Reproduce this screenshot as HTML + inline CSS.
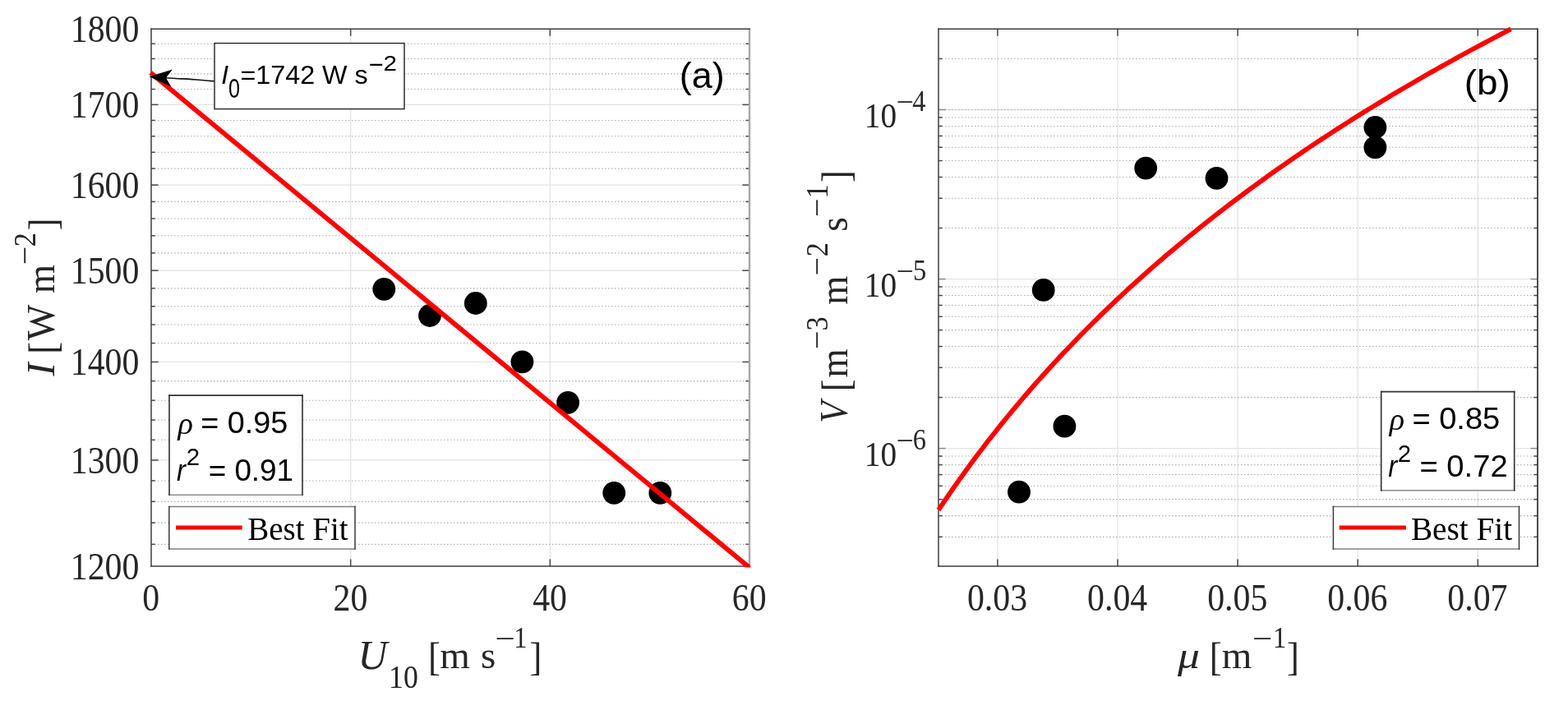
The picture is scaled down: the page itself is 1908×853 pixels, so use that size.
<!DOCTYPE html>
<html lang="en">
<head>
<meta charset="utf-8">
<title>Best fit plots</title>
<style>
html,body{margin:0;padding:0;background:#fff;}
body{width:1908px;height:853px;overflow:hidden;}
svg{display:block;}
text{white-space:pre;}
</style>
</head>
<body>
<svg width="1908" height="853" viewBox="0 0 1908 853" role="img" aria-label="Best fit plots (a) and (b)">
<rect width="1908" height="853" fill="#ffffff"/>
<line x1="426.67" y1="35.20" x2="426.67" y2="689.00" stroke="#e3e3e3" stroke-width="1.3" />
<line x1="669.33" y1="35.20" x2="669.33" y2="689.00" stroke="#e3e3e3" stroke-width="1.3" />
<line x1="184.00" y1="559.93" x2="912.00" y2="559.93" stroke="#e3e3e3" stroke-width="1.3" />
<line x1="184.00" y1="440.44" x2="912.00" y2="440.44" stroke="#e3e3e3" stroke-width="1.3" />
<line x1="184.00" y1="329.19" x2="912.00" y2="329.19" stroke="#e3e3e3" stroke-width="1.3" />
<line x1="184.00" y1="225.12" x2="912.00" y2="225.12" stroke="#e3e3e3" stroke-width="1.3" />
<line x1="184.00" y1="127.37" x2="912.00" y2="127.37" stroke="#e3e3e3" stroke-width="1.3" />
<line x1="184.00" y1="662.35" x2="912.00" y2="662.35" stroke="#adadad" stroke-width="1.1" stroke-dasharray="1.5 2.5"/>
<line x1="184.00" y1="636.13" x2="912.00" y2="636.13" stroke="#adadad" stroke-width="1.1" stroke-dasharray="1.5 2.5"/>
<line x1="184.00" y1="610.33" x2="912.00" y2="610.33" stroke="#adadad" stroke-width="1.1" stroke-dasharray="1.5 2.5"/>
<line x1="184.00" y1="584.93" x2="912.00" y2="584.93" stroke="#adadad" stroke-width="1.1" stroke-dasharray="1.5 2.5"/>
<line x1="184.00" y1="535.32" x2="912.00" y2="535.32" stroke="#adadad" stroke-width="1.1" stroke-dasharray="1.5 2.5"/>
<line x1="184.00" y1="511.07" x2="912.00" y2="511.07" stroke="#adadad" stroke-width="1.1" stroke-dasharray="1.5 2.5"/>
<line x1="184.00" y1="487.18" x2="912.00" y2="487.18" stroke="#adadad" stroke-width="1.1" stroke-dasharray="1.5 2.5"/>
<line x1="184.00" y1="463.64" x2="912.00" y2="463.64" stroke="#adadad" stroke-width="1.1" stroke-dasharray="1.5 2.5"/>
<line x1="184.00" y1="417.56" x2="912.00" y2="417.56" stroke="#adadad" stroke-width="1.1" stroke-dasharray="1.5 2.5"/>
<line x1="184.00" y1="395.01" x2="912.00" y2="395.01" stroke="#adadad" stroke-width="1.1" stroke-dasharray="1.5 2.5"/>
<line x1="184.00" y1="372.77" x2="912.00" y2="372.77" stroke="#adadad" stroke-width="1.1" stroke-dasharray="1.5 2.5"/>
<line x1="184.00" y1="350.83" x2="912.00" y2="350.83" stroke="#adadad" stroke-width="1.1" stroke-dasharray="1.5 2.5"/>
<line x1="184.00" y1="307.83" x2="912.00" y2="307.83" stroke="#adadad" stroke-width="1.1" stroke-dasharray="1.5 2.5"/>
<line x1="184.00" y1="286.75" x2="912.00" y2="286.75" stroke="#adadad" stroke-width="1.1" stroke-dasharray="1.5 2.5"/>
<line x1="184.00" y1="265.95" x2="912.00" y2="265.95" stroke="#adadad" stroke-width="1.1" stroke-dasharray="1.5 2.5"/>
<line x1="184.00" y1="245.40" x2="912.00" y2="245.40" stroke="#adadad" stroke-width="1.1" stroke-dasharray="1.5 2.5"/>
<line x1="184.00" y1="205.09" x2="912.00" y2="205.09" stroke="#adadad" stroke-width="1.1" stroke-dasharray="1.5 2.5"/>
<line x1="184.00" y1="185.31" x2="912.00" y2="185.31" stroke="#adadad" stroke-width="1.1" stroke-dasharray="1.5 2.5"/>
<line x1="184.00" y1="165.76" x2="912.00" y2="165.76" stroke="#adadad" stroke-width="1.1" stroke-dasharray="1.5 2.5"/>
<line x1="184.00" y1="146.45" x2="912.00" y2="146.45" stroke="#adadad" stroke-width="1.1" stroke-dasharray="1.5 2.5"/>
<line x1="184.00" y1="108.51" x2="912.00" y2="108.51" stroke="#adadad" stroke-width="1.1" stroke-dasharray="1.5 2.5"/>
<line x1="184.00" y1="89.87" x2="912.00" y2="89.87" stroke="#adadad" stroke-width="1.1" stroke-dasharray="1.5 2.5"/>
<line x1="184.00" y1="71.44" x2="912.00" y2="71.44" stroke="#adadad" stroke-width="1.1" stroke-dasharray="1.5 2.5"/>
<line x1="184.00" y1="53.22" x2="912.00" y2="53.22" stroke="#adadad" stroke-width="1.1" stroke-dasharray="1.5 2.5"/>
<line x1="426.67" y1="689.00" x2="426.67" y2="680.40" stroke="#484848" stroke-width="1.5" />
<line x1="426.67" y1="35.20" x2="426.67" y2="43.80" stroke="#484848" stroke-width="1.5" />
<line x1="669.33" y1="689.00" x2="669.33" y2="680.40" stroke="#484848" stroke-width="1.5" />
<line x1="669.33" y1="35.20" x2="669.33" y2="43.80" stroke="#484848" stroke-width="1.5" />
<line x1="184.00" y1="559.93" x2="192.60" y2="559.93" stroke="#484848" stroke-width="1.5" />
<line x1="912.00" y1="559.93" x2="903.40" y2="559.93" stroke="#484848" stroke-width="1.5" />
<line x1="184.00" y1="440.44" x2="192.60" y2="440.44" stroke="#484848" stroke-width="1.5" />
<line x1="912.00" y1="440.44" x2="903.40" y2="440.44" stroke="#484848" stroke-width="1.5" />
<line x1="184.00" y1="329.19" x2="192.60" y2="329.19" stroke="#484848" stroke-width="1.5" />
<line x1="912.00" y1="329.19" x2="903.40" y2="329.19" stroke="#484848" stroke-width="1.5" />
<line x1="184.00" y1="225.12" x2="192.60" y2="225.12" stroke="#484848" stroke-width="1.5" />
<line x1="912.00" y1="225.12" x2="903.40" y2="225.12" stroke="#484848" stroke-width="1.5" />
<line x1="184.00" y1="127.37" x2="192.60" y2="127.37" stroke="#484848" stroke-width="1.5" />
<line x1="912.00" y1="127.37" x2="903.40" y2="127.37" stroke="#484848" stroke-width="1.5" />
<line x1="184.00" y1="662.35" x2="188.60" y2="662.35" stroke="#484848" stroke-width="1.5" />
<line x1="912.00" y1="662.35" x2="907.40" y2="662.35" stroke="#484848" stroke-width="1.5" />
<line x1="184.00" y1="636.13" x2="188.60" y2="636.13" stroke="#484848" stroke-width="1.5" />
<line x1="912.00" y1="636.13" x2="907.40" y2="636.13" stroke="#484848" stroke-width="1.5" />
<line x1="184.00" y1="610.33" x2="188.60" y2="610.33" stroke="#484848" stroke-width="1.5" />
<line x1="912.00" y1="610.33" x2="907.40" y2="610.33" stroke="#484848" stroke-width="1.5" />
<line x1="184.00" y1="584.93" x2="188.60" y2="584.93" stroke="#484848" stroke-width="1.5" />
<line x1="912.00" y1="584.93" x2="907.40" y2="584.93" stroke="#484848" stroke-width="1.5" />
<line x1="184.00" y1="535.32" x2="188.60" y2="535.32" stroke="#484848" stroke-width="1.5" />
<line x1="912.00" y1="535.32" x2="907.40" y2="535.32" stroke="#484848" stroke-width="1.5" />
<line x1="184.00" y1="511.07" x2="188.60" y2="511.07" stroke="#484848" stroke-width="1.5" />
<line x1="912.00" y1="511.07" x2="907.40" y2="511.07" stroke="#484848" stroke-width="1.5" />
<line x1="184.00" y1="487.18" x2="188.60" y2="487.18" stroke="#484848" stroke-width="1.5" />
<line x1="912.00" y1="487.18" x2="907.40" y2="487.18" stroke="#484848" stroke-width="1.5" />
<line x1="184.00" y1="463.64" x2="188.60" y2="463.64" stroke="#484848" stroke-width="1.5" />
<line x1="912.00" y1="463.64" x2="907.40" y2="463.64" stroke="#484848" stroke-width="1.5" />
<line x1="184.00" y1="417.56" x2="188.60" y2="417.56" stroke="#484848" stroke-width="1.5" />
<line x1="912.00" y1="417.56" x2="907.40" y2="417.56" stroke="#484848" stroke-width="1.5" />
<line x1="184.00" y1="395.01" x2="188.60" y2="395.01" stroke="#484848" stroke-width="1.5" />
<line x1="912.00" y1="395.01" x2="907.40" y2="395.01" stroke="#484848" stroke-width="1.5" />
<line x1="184.00" y1="372.77" x2="188.60" y2="372.77" stroke="#484848" stroke-width="1.5" />
<line x1="912.00" y1="372.77" x2="907.40" y2="372.77" stroke="#484848" stroke-width="1.5" />
<line x1="184.00" y1="350.83" x2="188.60" y2="350.83" stroke="#484848" stroke-width="1.5" />
<line x1="912.00" y1="350.83" x2="907.40" y2="350.83" stroke="#484848" stroke-width="1.5" />
<line x1="184.00" y1="307.83" x2="188.60" y2="307.83" stroke="#484848" stroke-width="1.5" />
<line x1="912.00" y1="307.83" x2="907.40" y2="307.83" stroke="#484848" stroke-width="1.5" />
<line x1="184.00" y1="286.75" x2="188.60" y2="286.75" stroke="#484848" stroke-width="1.5" />
<line x1="912.00" y1="286.75" x2="907.40" y2="286.75" stroke="#484848" stroke-width="1.5" />
<line x1="184.00" y1="265.95" x2="188.60" y2="265.95" stroke="#484848" stroke-width="1.5" />
<line x1="912.00" y1="265.95" x2="907.40" y2="265.95" stroke="#484848" stroke-width="1.5" />
<line x1="184.00" y1="245.40" x2="188.60" y2="245.40" stroke="#484848" stroke-width="1.5" />
<line x1="912.00" y1="245.40" x2="907.40" y2="245.40" stroke="#484848" stroke-width="1.5" />
<line x1="184.00" y1="205.09" x2="188.60" y2="205.09" stroke="#484848" stroke-width="1.5" />
<line x1="912.00" y1="205.09" x2="907.40" y2="205.09" stroke="#484848" stroke-width="1.5" />
<line x1="184.00" y1="185.31" x2="188.60" y2="185.31" stroke="#484848" stroke-width="1.5" />
<line x1="912.00" y1="185.31" x2="907.40" y2="185.31" stroke="#484848" stroke-width="1.5" />
<line x1="184.00" y1="165.76" x2="188.60" y2="165.76" stroke="#484848" stroke-width="1.5" />
<line x1="912.00" y1="165.76" x2="907.40" y2="165.76" stroke="#484848" stroke-width="1.5" />
<line x1="184.00" y1="146.45" x2="188.60" y2="146.45" stroke="#484848" stroke-width="1.5" />
<line x1="912.00" y1="146.45" x2="907.40" y2="146.45" stroke="#484848" stroke-width="1.5" />
<line x1="184.00" y1="108.51" x2="188.60" y2="108.51" stroke="#484848" stroke-width="1.5" />
<line x1="912.00" y1="108.51" x2="907.40" y2="108.51" stroke="#484848" stroke-width="1.5" />
<line x1="184.00" y1="89.87" x2="188.60" y2="89.87" stroke="#484848" stroke-width="1.5" />
<line x1="912.00" y1="89.87" x2="907.40" y2="89.87" stroke="#484848" stroke-width="1.5" />
<line x1="184.00" y1="71.44" x2="188.60" y2="71.44" stroke="#484848" stroke-width="1.5" />
<line x1="912.00" y1="71.44" x2="907.40" y2="71.44" stroke="#484848" stroke-width="1.5" />
<line x1="184.00" y1="53.22" x2="188.60" y2="53.22" stroke="#484848" stroke-width="1.5" />
<line x1="912.00" y1="53.22" x2="907.40" y2="53.22" stroke="#484848" stroke-width="1.5" />
<line x1="912.00" y1="34.45" x2="912.00" y2="689.75" stroke="#a8a8a8" stroke-width="2.4" />
<line x1="183.25" y1="35.20" x2="912.75" y2="35.20" stroke="#3c3c3c" stroke-width="1.5" />
<line x1="183.25" y1="689.00" x2="912.75" y2="689.00" stroke="#3c3c3c" stroke-width="1.5" />
<line x1="184.00" y1="34.45" x2="184.00" y2="689.75" stroke="#3c3c3c" stroke-width="1.5" />
<circle cx="467.3" cy="351.8" r="13.9" fill="#000"/>
<circle cx="523.0" cy="384.0" r="13.9" fill="#000"/>
<circle cx="578.8" cy="369.0" r="13.9" fill="#000"/>
<circle cx="635.4" cy="440.3" r="13.9" fill="#000"/>
<circle cx="691.1" cy="489.8" r="13.9" fill="#000"/>
<circle cx="747.2" cy="599.8" r="13.9" fill="#000"/>
<circle cx="803.3" cy="599.8" r="13.9" fill="#000"/>
<clipPath id="cl"><rect x="170" y="30" width="743.3" height="660.4"/></clipPath>
<g clip-path="url(#cl)"><line x1="183.2" y1="88.49" x2="920" y2="697.31" stroke="#ff0000" stroke-width="5.8"/></g>
<text transform="translate(169.40 705.00) scale(0.9170 1)" text-anchor="end" font-family='"Liberation Serif", serif'  font-size="45.60" fill="#262626">1200</text>
<text transform="translate(169.40 575.93) scale(0.9170 1)" text-anchor="end" font-family='"Liberation Serif", serif'  font-size="45.60" fill="#262626">1300</text>
<text transform="translate(169.40 456.44) scale(0.9170 1)" text-anchor="end" font-family='"Liberation Serif", serif'  font-size="45.60" fill="#262626">1400</text>
<text transform="translate(169.40 345.19) scale(0.9170 1)" text-anchor="end" font-family='"Liberation Serif", serif'  font-size="45.60" fill="#262626">1500</text>
<text transform="translate(169.40 241.12) scale(0.9170 1)" text-anchor="end" font-family='"Liberation Serif", serif'  font-size="45.60" fill="#262626">1600</text>
<text transform="translate(169.40 143.37) scale(0.9170 1)" text-anchor="end" font-family='"Liberation Serif", serif'  font-size="45.60" fill="#262626">1700</text>
<text transform="translate(169.40 51.20) scale(0.9170 1)" text-anchor="end" font-family='"Liberation Serif", serif'  font-size="45.60" fill="#262626">1800</text>
<text transform="translate(183.70 743.30) scale(0.9170 1)" text-anchor="middle" font-family='"Liberation Serif", serif'  font-size="45.60" fill="#262626">0</text>
<text transform="translate(426.37 743.30) scale(0.9170 1)" text-anchor="middle" font-family='"Liberation Serif", serif'  font-size="45.60" fill="#262626">20</text>
<text transform="translate(669.03 743.30) scale(0.9170 1)" text-anchor="middle" font-family='"Liberation Serif", serif'  font-size="45.60" fill="#262626">40</text>
<text transform="translate(911.70 743.30) scale(0.9170 1)" text-anchor="middle" font-family='"Liberation Serif", serif'  font-size="45.60" fill="#262626">60</text>
<path d="M261 98.7 C245 98.2 232 95.8 222 95.9 C214 96 208 94.8 201.5 94.8" stroke="#111" stroke-width="1.6" fill="none"/>
<path d="M181.5 93.3 L209.9 84.6 L202 94.7 L208.3 105.6 Z" fill="#000"/>
<rect x="261.00" y="52.60" width="231.00" height="80.00" fill="#fff" stroke="#2e2e2e" stroke-width="1.5"/>
<g aria-label="I0=1742 W s−2">
<text transform="translate(269.33 101.70)" font-family='"Liberation Sans", sans-serif' font-style="italic" font-size="31.70" fill="#000">I</text>
<text transform="translate(277.99 119.07) scale(0.7735 1)" font-family='"Liberation Sans", sans-serif'  font-size="32.55" fill="#000">0</text>
<text transform="translate(292.38 101.68) scale(1.0193 1)" font-family='"Liberation Sans", sans-serif'  font-size="31.70" fill="#000">=1742 W s</text>
<text transform="translate(448.46 89.42) scale(1 1.0000)" font-family='"Liberation Sans", sans-serif'  font-size="30.82" fill="#000">−</text>
<text transform="translate(466.52 86.00) scale(1.1570 1)" font-family='"Liberation Sans", sans-serif'  font-size="25.55" fill="#000">2</text>
</g>
<text transform="translate(826.86 107.12) scale(1.0102 1)" font-family='"Liberation Sans", sans-serif'  font-size="44.41" fill="#000">(a)</text>
<rect x="206.00" y="481.10" width="162.00" height="121.10" fill="#fff"/>
<line x1="205.20" y1="481.10" x2="368.80" y2="481.10" stroke="#333333" stroke-width="1.6" />
<line x1="205.20" y1="602.20" x2="368.80" y2="602.20" stroke="#8a8a8a" stroke-width="1.6" />
<line x1="206.00" y1="480.30" x2="206.00" y2="603.00" stroke="#2e2e2e" stroke-width="1.6" />
<line x1="368.00" y1="480.30" x2="368.00" y2="603.00" stroke="#2e2e2e" stroke-width="1.6" />
<g aria-label="ρ = 0.95, r2 = 0.91">
<text transform="translate(216.52 527.70) scale(1.0369 1)" font-family='"Liberation Serif", serif' font-style="italic" font-size="37.02" fill="#000">ρ</text>
<text transform="translate(244.31 527.13) scale(1.0344 1)" font-family='"Liberation Sans", sans-serif'  font-size="36.51" fill="#000">= 0.95</text>
<text transform="translate(215.05 585.00) scale(0.9000 1)" font-family='"Liberation Sans", sans-serif' font-style="italic" font-size="36.40" fill="#000">r</text>
<text transform="translate(226.63 566.40) scale(0.9781 1)" font-family='"Liberation Sans", sans-serif'  font-size="30.00" fill="#000">2</text>
<text transform="translate(253.66 585.00) scale(1.0100 1)" font-family='"Liberation Sans", sans-serif'  font-size="36.47" fill="#000">= 0.91</text>
</g>
<rect x="205.80" y="616.40" width="226.20" height="51.70" fill="#fff"/>
<line x1="205.05" y1="616.40" x2="432.75" y2="616.40" stroke="#808080" stroke-width="1.5" />
<line x1="205.05" y1="668.10" x2="432.75" y2="668.10" stroke="#808080" stroke-width="1.5" />
<line x1="205.80" y1="615.65" x2="205.80" y2="668.85" stroke="#3a3a3a" stroke-width="1.5" />
<line x1="432.00" y1="615.65" x2="432.00" y2="668.85" stroke="#3a3a3a" stroke-width="1.5" />
<line x1="214.00" y1="642.10" x2="294.60" y2="642.10" stroke="#ff0000" stroke-width="5.0" />
<text transform="translate(301.23 656.90) scale(0.9838 1)" font-family='"Liberation Serif", serif'  font-size="39.65" fill="#000">Best Fit</text>
<g aria-label="U10 [m s−1]">
<text transform="translate(435.57 813.50)" font-family='"Liberation Serif", serif' font-style="italic" font-size="49.60" fill="#262626">U</text>
<text transform="translate(473.10 837.30) scale(0.8850 1)" font-family='"Liberation Serif", serif'  font-size="40.40" fill="#262626">10</text>
<text transform="translate(520.93 814.50) scale(0.9000 1)" font-family='"Liberation Serif", serif'  font-size="49.60" fill="#262626">[</text>
<text transform="translate(535.16 812.90)" font-family='"Liberation Serif", serif'  font-size="47.00" fill="#262626">m</text>
<text transform="translate(584.92 812.90)" font-family='"Liberation Serif", serif'  font-size="47.00" fill="#262626">s</text>
<text transform="translate(602.14 788.50) scale(1.2000 1)" font-family='"Liberation Serif", serif'  font-size="36.00" fill="#262626">−</text>
<text transform="translate(625.19 787.90) scale(0.9000 1)" font-family='"Liberation Serif", serif'  font-size="36.00" fill="#262626">1</text>
<text transform="translate(644.59 814.50) scale(0.9000 1)" font-family='"Liberation Serif", serif'  font-size="49.60" fill="#262626">]</text>
</g>
<g aria-label="I [W m−2]">
<text transform="translate(65.60 457.44) rotate(-90)" font-family='"Liberation Serif", serif' font-style="italic" font-size="48.50" fill="#262626">I</text>
<text transform="translate(67.60 430.87) rotate(-90) scale(0.9000 1)" font-family='"Liberation Serif", serif'  font-size="49.60" fill="#262626">[</text>
<text transform="translate(65.60 414.20) rotate(-90) scale(0.9550 1)" font-family='"Liberation Serif", serif'  font-size="48.50" fill="#262626">W</text>
<text transform="translate(65.60 356.90) rotate(-90) scale(0.9300 1)" font-family='"Liberation Serif", serif'  font-size="48.50" fill="#262626">m</text>
<text transform="translate(42.60 322.30) rotate(-90) scale(1.0500 1)" font-family='"Liberation Serif", serif'  font-size="38.00" fill="#262626">−</text>
<text transform="translate(42.60 300.28) rotate(-90) scale(0.9000 1)" font-family='"Liberation Serif", serif'  font-size="38.00" fill="#262626">2</text>
<text transform="translate(67.60 280.21) rotate(-90) scale(0.9000 1)" font-family='"Liberation Serif", serif'  font-size="49.60" fill="#262626">]</text>
</g>
<line x1="1213.90" y1="35.20" x2="1213.90" y2="689.00" stroke="#e3e3e3" stroke-width="1.3" />
<line x1="1360.00" y1="35.20" x2="1360.00" y2="689.00" stroke="#e3e3e3" stroke-width="1.3" />
<line x1="1506.10" y1="35.20" x2="1506.10" y2="689.00" stroke="#e3e3e3" stroke-width="1.3" />
<line x1="1652.20" y1="35.20" x2="1652.20" y2="689.00" stroke="#e3e3e3" stroke-width="1.3" />
<line x1="1798.30" y1="35.20" x2="1798.30" y2="689.00" stroke="#e3e3e3" stroke-width="1.3" />
<line x1="1142.00" y1="133.51" x2="1871.00" y2="133.51" stroke="#e3e3e3" stroke-width="1.3" />
<line x1="1142.00" y1="339.56" x2="1871.00" y2="339.56" stroke="#e3e3e3" stroke-width="1.3" />
<line x1="1142.00" y1="545.61" x2="1871.00" y2="545.61" stroke="#e3e3e3" stroke-width="1.3" />
<line x1="1142.00" y1="653.35" x2="1871.00" y2="653.35" stroke="#adadad" stroke-width="1.1" stroke-dasharray="1.5 2.5"/>
<line x1="1142.00" y1="627.61" x2="1871.00" y2="627.61" stroke="#adadad" stroke-width="1.1" stroke-dasharray="1.5 2.5"/>
<line x1="1142.00" y1="607.64" x2="1871.00" y2="607.64" stroke="#adadad" stroke-width="1.1" stroke-dasharray="1.5 2.5"/>
<line x1="1142.00" y1="591.32" x2="1871.00" y2="591.32" stroke="#adadad" stroke-width="1.1" stroke-dasharray="1.5 2.5"/>
<line x1="1142.00" y1="577.53" x2="1871.00" y2="577.53" stroke="#adadad" stroke-width="1.1" stroke-dasharray="1.5 2.5"/>
<line x1="1142.00" y1="565.58" x2="1871.00" y2="565.58" stroke="#adadad" stroke-width="1.1" stroke-dasharray="1.5 2.5"/>
<line x1="1142.00" y1="555.04" x2="1871.00" y2="555.04" stroke="#adadad" stroke-width="1.1" stroke-dasharray="1.5 2.5"/>
<line x1="1142.00" y1="483.58" x2="1871.00" y2="483.58" stroke="#adadad" stroke-width="1.1" stroke-dasharray="1.5 2.5"/>
<line x1="1142.00" y1="447.30" x2="1871.00" y2="447.30" stroke="#adadad" stroke-width="1.1" stroke-dasharray="1.5 2.5"/>
<line x1="1142.00" y1="421.56" x2="1871.00" y2="421.56" stroke="#adadad" stroke-width="1.1" stroke-dasharray="1.5 2.5"/>
<line x1="1142.00" y1="401.59" x2="1871.00" y2="401.59" stroke="#adadad" stroke-width="1.1" stroke-dasharray="1.5 2.5"/>
<line x1="1142.00" y1="385.27" x2="1871.00" y2="385.27" stroke="#adadad" stroke-width="1.1" stroke-dasharray="1.5 2.5"/>
<line x1="1142.00" y1="371.48" x2="1871.00" y2="371.48" stroke="#adadad" stroke-width="1.1" stroke-dasharray="1.5 2.5"/>
<line x1="1142.00" y1="359.53" x2="1871.00" y2="359.53" stroke="#adadad" stroke-width="1.1" stroke-dasharray="1.5 2.5"/>
<line x1="1142.00" y1="348.99" x2="1871.00" y2="348.99" stroke="#adadad" stroke-width="1.1" stroke-dasharray="1.5 2.5"/>
<line x1="1142.00" y1="277.53" x2="1871.00" y2="277.53" stroke="#adadad" stroke-width="1.1" stroke-dasharray="1.5 2.5"/>
<line x1="1142.00" y1="241.25" x2="1871.00" y2="241.25" stroke="#adadad" stroke-width="1.1" stroke-dasharray="1.5 2.5"/>
<line x1="1142.00" y1="215.51" x2="1871.00" y2="215.51" stroke="#adadad" stroke-width="1.1" stroke-dasharray="1.5 2.5"/>
<line x1="1142.00" y1="195.54" x2="1871.00" y2="195.54" stroke="#adadad" stroke-width="1.1" stroke-dasharray="1.5 2.5"/>
<line x1="1142.00" y1="179.22" x2="1871.00" y2="179.22" stroke="#adadad" stroke-width="1.1" stroke-dasharray="1.5 2.5"/>
<line x1="1142.00" y1="165.43" x2="1871.00" y2="165.43" stroke="#adadad" stroke-width="1.1" stroke-dasharray="1.5 2.5"/>
<line x1="1142.00" y1="153.48" x2="1871.00" y2="153.48" stroke="#adadad" stroke-width="1.1" stroke-dasharray="1.5 2.5"/>
<line x1="1142.00" y1="142.94" x2="1871.00" y2="142.94" stroke="#adadad" stroke-width="1.1" stroke-dasharray="1.5 2.5"/>
<line x1="1142.00" y1="71.48" x2="1871.00" y2="71.48" stroke="#adadad" stroke-width="1.1" stroke-dasharray="1.5 2.5"/>
<line x1="1142.00" y1="133.51" x2="1871.00" y2="133.51" stroke="#adadad" stroke-width="1.1" stroke-dasharray="1.5 2.5"/>
<line x1="1213.90" y1="689.00" x2="1213.90" y2="680.40" stroke="#484848" stroke-width="1.5" />
<line x1="1213.90" y1="35.20" x2="1213.90" y2="43.80" stroke="#484848" stroke-width="1.5" />
<line x1="1360.00" y1="689.00" x2="1360.00" y2="680.40" stroke="#484848" stroke-width="1.5" />
<line x1="1360.00" y1="35.20" x2="1360.00" y2="43.80" stroke="#484848" stroke-width="1.5" />
<line x1="1506.10" y1="689.00" x2="1506.10" y2="680.40" stroke="#484848" stroke-width="1.5" />
<line x1="1506.10" y1="35.20" x2="1506.10" y2="43.80" stroke="#484848" stroke-width="1.5" />
<line x1="1652.20" y1="689.00" x2="1652.20" y2="680.40" stroke="#484848" stroke-width="1.5" />
<line x1="1652.20" y1="35.20" x2="1652.20" y2="43.80" stroke="#484848" stroke-width="1.5" />
<line x1="1798.30" y1="689.00" x2="1798.30" y2="680.40" stroke="#484848" stroke-width="1.5" />
<line x1="1798.30" y1="35.20" x2="1798.30" y2="43.80" stroke="#484848" stroke-width="1.5" />
<line x1="1142.00" y1="133.51" x2="1150.60" y2="133.51" stroke="#8c8c8c" stroke-width="1.5" />
<line x1="1871.00" y1="133.51" x2="1862.40" y2="133.51" stroke="#8c8c8c" stroke-width="1.5" />
<line x1="1142.00" y1="339.56" x2="1150.60" y2="339.56" stroke="#8c8c8c" stroke-width="1.5" />
<line x1="1871.00" y1="339.56" x2="1862.40" y2="339.56" stroke="#8c8c8c" stroke-width="1.5" />
<line x1="1142.00" y1="545.61" x2="1150.60" y2="545.61" stroke="#8c8c8c" stroke-width="1.5" />
<line x1="1871.00" y1="545.61" x2="1862.40" y2="545.61" stroke="#8c8c8c" stroke-width="1.5" />
<line x1="1142.00" y1="653.35" x2="1146.60" y2="653.35" stroke="#484848" stroke-width="1.5" />
<line x1="1871.00" y1="653.35" x2="1866.40" y2="653.35" stroke="#484848" stroke-width="1.5" />
<line x1="1142.00" y1="627.61" x2="1146.60" y2="627.61" stroke="#484848" stroke-width="1.5" />
<line x1="1871.00" y1="627.61" x2="1866.40" y2="627.61" stroke="#484848" stroke-width="1.5" />
<line x1="1142.00" y1="607.64" x2="1146.60" y2="607.64" stroke="#484848" stroke-width="1.5" />
<line x1="1871.00" y1="607.64" x2="1866.40" y2="607.64" stroke="#484848" stroke-width="1.5" />
<line x1="1142.00" y1="591.32" x2="1146.60" y2="591.32" stroke="#484848" stroke-width="1.5" />
<line x1="1871.00" y1="591.32" x2="1866.40" y2="591.32" stroke="#484848" stroke-width="1.5" />
<line x1="1142.00" y1="577.53" x2="1146.60" y2="577.53" stroke="#484848" stroke-width="1.5" />
<line x1="1871.00" y1="577.53" x2="1866.40" y2="577.53" stroke="#484848" stroke-width="1.5" />
<line x1="1142.00" y1="565.58" x2="1146.60" y2="565.58" stroke="#484848" stroke-width="1.5" />
<line x1="1871.00" y1="565.58" x2="1866.40" y2="565.58" stroke="#484848" stroke-width="1.5" />
<line x1="1142.00" y1="555.04" x2="1146.60" y2="555.04" stroke="#484848" stroke-width="1.5" />
<line x1="1871.00" y1="555.04" x2="1866.40" y2="555.04" stroke="#484848" stroke-width="1.5" />
<line x1="1142.00" y1="483.58" x2="1146.60" y2="483.58" stroke="#484848" stroke-width="1.5" />
<line x1="1871.00" y1="483.58" x2="1866.40" y2="483.58" stroke="#484848" stroke-width="1.5" />
<line x1="1142.00" y1="447.30" x2="1146.60" y2="447.30" stroke="#484848" stroke-width="1.5" />
<line x1="1871.00" y1="447.30" x2="1866.40" y2="447.30" stroke="#484848" stroke-width="1.5" />
<line x1="1142.00" y1="421.56" x2="1146.60" y2="421.56" stroke="#484848" stroke-width="1.5" />
<line x1="1871.00" y1="421.56" x2="1866.40" y2="421.56" stroke="#484848" stroke-width="1.5" />
<line x1="1142.00" y1="401.59" x2="1146.60" y2="401.59" stroke="#484848" stroke-width="1.5" />
<line x1="1871.00" y1="401.59" x2="1866.40" y2="401.59" stroke="#484848" stroke-width="1.5" />
<line x1="1142.00" y1="385.27" x2="1146.60" y2="385.27" stroke="#484848" stroke-width="1.5" />
<line x1="1871.00" y1="385.27" x2="1866.40" y2="385.27" stroke="#484848" stroke-width="1.5" />
<line x1="1142.00" y1="371.48" x2="1146.60" y2="371.48" stroke="#484848" stroke-width="1.5" />
<line x1="1871.00" y1="371.48" x2="1866.40" y2="371.48" stroke="#484848" stroke-width="1.5" />
<line x1="1142.00" y1="359.53" x2="1146.60" y2="359.53" stroke="#484848" stroke-width="1.5" />
<line x1="1871.00" y1="359.53" x2="1866.40" y2="359.53" stroke="#484848" stroke-width="1.5" />
<line x1="1142.00" y1="348.99" x2="1146.60" y2="348.99" stroke="#484848" stroke-width="1.5" />
<line x1="1871.00" y1="348.99" x2="1866.40" y2="348.99" stroke="#484848" stroke-width="1.5" />
<line x1="1142.00" y1="277.53" x2="1146.60" y2="277.53" stroke="#484848" stroke-width="1.5" />
<line x1="1871.00" y1="277.53" x2="1866.40" y2="277.53" stroke="#484848" stroke-width="1.5" />
<line x1="1142.00" y1="241.25" x2="1146.60" y2="241.25" stroke="#484848" stroke-width="1.5" />
<line x1="1871.00" y1="241.25" x2="1866.40" y2="241.25" stroke="#484848" stroke-width="1.5" />
<line x1="1142.00" y1="215.51" x2="1146.60" y2="215.51" stroke="#484848" stroke-width="1.5" />
<line x1="1871.00" y1="215.51" x2="1866.40" y2="215.51" stroke="#484848" stroke-width="1.5" />
<line x1="1142.00" y1="195.54" x2="1146.60" y2="195.54" stroke="#484848" stroke-width="1.5" />
<line x1="1871.00" y1="195.54" x2="1866.40" y2="195.54" stroke="#484848" stroke-width="1.5" />
<line x1="1142.00" y1="179.22" x2="1146.60" y2="179.22" stroke="#484848" stroke-width="1.5" />
<line x1="1871.00" y1="179.22" x2="1866.40" y2="179.22" stroke="#484848" stroke-width="1.5" />
<line x1="1142.00" y1="165.43" x2="1146.60" y2="165.43" stroke="#484848" stroke-width="1.5" />
<line x1="1871.00" y1="165.43" x2="1866.40" y2="165.43" stroke="#484848" stroke-width="1.5" />
<line x1="1142.00" y1="153.48" x2="1146.60" y2="153.48" stroke="#484848" stroke-width="1.5" />
<line x1="1871.00" y1="153.48" x2="1866.40" y2="153.48" stroke="#484848" stroke-width="1.5" />
<line x1="1142.00" y1="142.94" x2="1146.60" y2="142.94" stroke="#484848" stroke-width="1.5" />
<line x1="1871.00" y1="142.94" x2="1866.40" y2="142.94" stroke="#484848" stroke-width="1.5" />
<line x1="1142.00" y1="71.48" x2="1146.60" y2="71.48" stroke="#484848" stroke-width="1.5" />
<line x1="1871.00" y1="71.48" x2="1866.40" y2="71.48" stroke="#484848" stroke-width="1.5" />
<line x1="1871.00" y1="34.45" x2="1871.00" y2="689.75" stroke="#383838" stroke-width="1.8" />
<line x1="1141.25" y1="35.20" x2="1871.75" y2="35.20" stroke="#3c3c3c" stroke-width="1.5" />
<line x1="1141.25" y1="689.00" x2="1871.75" y2="689.00" stroke="#3c3c3c" stroke-width="1.5" />
<line x1="1142.00" y1="34.45" x2="1142.00" y2="689.75" stroke="#3c3c3c" stroke-width="1.5" />
<circle cx="1240.0" cy="598.7" r="13.9" fill="#000"/>
<circle cx="1269.7" cy="352.9" r="13.9" fill="#000"/>
<circle cx="1295.4" cy="518.7" r="13.9" fill="#000"/>
<circle cx="1394.2" cy="204.6" r="13.9" fill="#000"/>
<circle cx="1480.5" cy="216.9" r="13.9" fill="#000"/>
<circle cx="1673.4" cy="155.0" r="13.9" fill="#000"/>
<circle cx="1673.4" cy="179.4" r="13.9" fill="#000"/>
<polyline points="1142.0,620.55 1148.0,611.61 1154.0,602.81 1160.0,594.15 1166.0,585.63 1172.0,577.23 1178.0,568.97 1184.0,560.82 1190.0,552.80 1196.0,544.89 1202.0,537.10 1208.0,529.41 1214.0,521.83 1220.0,514.35 1226.0,506.98 1232.0,499.70 1238.0,492.52 1244.0,485.43 1250.0,478.43 1256.0,471.52 1262.0,464.69 1268.0,457.95 1274.0,451.29 1280.0,444.71 1286.0,438.21 1292.0,431.79 1298.0,425.44 1304.0,419.16 1310.0,412.96 1316.0,406.82 1322.0,400.75 1328.0,394.75 1334.0,388.82 1340.0,382.94 1346.0,377.13 1352.0,371.38 1358.0,365.69 1364.0,360.06 1370.0,354.49 1376.0,348.97 1382.0,343.51 1388.0,338.10 1394.0,332.74 1400.0,327.44 1406.0,322.18 1412.0,316.98 1418.0,311.82 1424.0,306.72 1430.0,301.66 1436.0,296.65 1442.0,291.68 1448.0,286.76 1454.0,281.88 1460.0,277.04 1466.0,272.25 1472.0,267.50 1478.0,262.78 1484.0,258.11 1490.0,253.48 1496.0,248.89 1502.0,244.34 1508.0,239.82 1514.0,235.34 1520.0,230.90 1526.0,226.49 1532.0,222.12 1538.0,217.78 1544.0,213.47 1550.0,209.20 1556.0,204.97 1562.0,200.76 1568.0,196.59 1574.0,192.45 1580.0,188.34 1586.0,184.26 1592.0,180.21 1598.0,176.19 1604.0,172.20 1610.0,168.24 1616.0,164.31 1622.0,160.40 1628.0,156.52 1634.0,152.67 1640.0,148.85 1646.0,145.05 1652.0,141.28 1658.0,137.54 1664.0,133.82 1670.0,130.13 1676.0,126.46 1682.0,122.81 1688.0,119.19 1694.0,115.59 1700.0,112.02 1706.0,108.47 1712.0,104.94 1718.0,101.44 1724.0,97.95 1730.0,94.49 1736.0,91.05 1742.0,87.64 1748.0,84.24 1754.0,80.87 1760.0,77.51 1766.0,74.18 1772.0,70.86 1778.0,67.57 1784.0,64.29 1790.0,61.04 1796.0,57.80 1802.0,54.59 1808.0,51.39 1814.0,48.21 1820.0,45.05 1826.0,41.90 1832.0,38.78 1838.0,35.67 1838.6,35.36" fill="none" stroke="#ff0000" stroke-width="5.8" stroke-linejoin="round"/>
<text transform="translate(1213.50 743.30) scale(0.9170 1)" text-anchor="middle" font-family='"Liberation Serif", serif'  font-size="45.60" fill="#262626">0.03</text>
<text transform="translate(1359.60 743.30) scale(0.9170 1)" text-anchor="middle" font-family='"Liberation Serif", serif'  font-size="45.60" fill="#262626">0.04</text>
<text transform="translate(1505.70 743.30) scale(0.9170 1)" text-anchor="middle" font-family='"Liberation Serif", serif'  font-size="45.60" fill="#262626">0.05</text>
<text transform="translate(1651.80 743.30) scale(0.9170 1)" text-anchor="middle" font-family='"Liberation Serif", serif'  font-size="45.60" fill="#262626">0.06</text>
<text transform="translate(1797.90 743.30) scale(0.9170 1)" text-anchor="middle" font-family='"Liberation Serif", serif'  font-size="45.60" fill="#262626">0.07</text>
<text transform="translate(1781.70 114.93) scale(1.0669 1)" font-family='"Liberation Sans", sans-serif'  font-size="42.90" fill="#000">(b)</text>
<g aria-label="10^-4">
<text transform="translate(1051.73 155.11) scale(0.9100 1)" font-family='"Liberation Serif", serif'  font-size="43.20" fill="#262626">10</text>
<text transform="translate(1090.51 135.81) scale(1.0500 1)" font-family='"Liberation Serif", serif'  font-size="36.00" fill="#262626">−</text>
<text transform="translate(1110.34 134.91) scale(0.9000 1)" font-family='"Liberation Serif", serif'  font-size="36.00" fill="#262626">4</text>
</g>
<g aria-label="10^-5">
<text transform="translate(1051.73 361.16) scale(0.9100 1)" font-family='"Liberation Serif", serif'  font-size="43.20" fill="#262626">10</text>
<text transform="translate(1090.51 341.86) scale(1.0500 1)" font-family='"Liberation Serif", serif'  font-size="36.00" fill="#262626">−</text>
<text transform="translate(1111.10 340.96) scale(0.9000 1)" font-family='"Liberation Serif", serif'  font-size="36.00" fill="#262626">5</text>
</g>
<g aria-label="10^-6">
<text transform="translate(1051.73 567.21) scale(0.9100 1)" font-family='"Liberation Serif", serif'  font-size="43.20" fill="#262626">10</text>
<text transform="translate(1090.51 547.91) scale(1.0500 1)" font-family='"Liberation Serif", serif'  font-size="36.00" fill="#262626">−</text>
<text transform="translate(1110.77 547.01) scale(0.9000 1)" font-family='"Liberation Serif", serif'  font-size="36.00" fill="#262626">6</text>
</g>
<rect x="1680.70" y="476.60" width="162.00" height="120.20" fill="#fff"/>
<line x1="1679.90" y1="476.60" x2="1843.50" y2="476.60" stroke="#333333" stroke-width="1.6" />
<line x1="1679.90" y1="596.80" x2="1843.50" y2="596.80" stroke="#8a8a8a" stroke-width="1.6" />
<line x1="1680.70" y1="475.80" x2="1680.70" y2="597.60" stroke="#2e2e2e" stroke-width="1.6" />
<line x1="1842.70" y1="475.80" x2="1842.70" y2="597.60" stroke="#2e2e2e" stroke-width="1.6" />
<g aria-label="ρ = 0.85, r2 = 0.72">
<text transform="translate(1690.82 523.00) scale(1.0313 1)" font-family='"Liberation Serif", serif' font-style="italic" font-size="37.02" fill="#000">ρ</text>
<text transform="translate(1718.40 522.33) scale(1.0425 1)" font-family='"Liberation Sans", sans-serif'  font-size="36.51" fill="#000">= 0.85</text>
<text transform="translate(1689.25 580.20) scale(0.9000 1)" font-family='"Liberation Sans", sans-serif' font-style="italic" font-size="36.40" fill="#000">r</text>
<text transform="translate(1700.83 561.60) scale(0.9781 1)" font-family='"Liberation Sans", sans-serif'  font-size="30.00" fill="#000">2</text>
<text transform="translate(1727.39 579.83) scale(1.0461 1)" font-family='"Liberation Sans", sans-serif'  font-size="36.51" fill="#000">= 0.72</text>
</g>
<rect x="1622.40" y="616.40" width="226.10" height="51.70" fill="#fff"/>
<line x1="1621.65" y1="616.40" x2="1849.25" y2="616.40" stroke="#808080" stroke-width="1.5" />
<line x1="1621.65" y1="668.10" x2="1849.25" y2="668.10" stroke="#808080" stroke-width="1.5" />
<line x1="1622.40" y1="615.65" x2="1622.40" y2="668.85" stroke="#3a3a3a" stroke-width="1.5" />
<line x1="1848.50" y1="615.65" x2="1848.50" y2="668.85" stroke="#3a3a3a" stroke-width="1.5" />
<line x1="1629.70" y1="642.10" x2="1710.90" y2="642.10" stroke="#ff0000" stroke-width="5.0" />
<text transform="translate(1716.92 656.90) scale(0.9895 1)" font-family='"Liberation Serif", serif'  font-size="39.65" fill="#000">Best Fit</text>
<g aria-label="μ [m−1]">
<text transform="translate(1432.90 812.90) scale(1.1400 1)" font-family='"Liberation Serif", serif' font-style="italic" font-size="47.00" fill="#262626">μ</text>
<text transform="translate(1471.83 814.50) scale(0.9000 1)" font-family='"Liberation Serif", serif'  font-size="49.60" fill="#262626">[</text>
<text transform="translate(1486.86 812.90)" font-family='"Liberation Serif", serif'  font-size="47.00" fill="#262626">m</text>
<text transform="translate(1523.74 788.80) scale(1.2000 1)" font-family='"Liberation Serif", serif'  font-size="36.00" fill="#262626">−</text>
<text transform="translate(1549.09 787.90) scale(0.9000 1)" font-family='"Liberation Serif", serif'  font-size="36.00" fill="#262626">1</text>
<text transform="translate(1565.99 814.50) scale(0.9000 1)" font-family='"Liberation Serif", serif'  font-size="49.60" fill="#262626">]</text>
</g>
<g aria-label="V [m−3 m−2 s−1]">
<text transform="translate(1030.60 514.70) rotate(-90) scale(0.8900 1)" font-family='"Liberation Serif", serif' font-style="italic" font-size="48.50" fill="#262626">V</text>
<text transform="translate(1032.60 476.27) rotate(-90) scale(0.9000 1)" font-family='"Liberation Serif", serif'  font-size="49.60" fill="#262626">[</text>
<text transform="translate(1030.60 459.50) rotate(-90) scale(0.9300 1)" font-family='"Liberation Serif", serif'  font-size="48.50" fill="#262626">m</text>
<text transform="translate(1006.80 424.89) rotate(-90) scale(1.0500 1)" font-family='"Liberation Serif", serif'  font-size="38.00" fill="#262626">−</text>
<text transform="translate(1006.80 402.40) rotate(-90) scale(0.9000 1)" font-family='"Liberation Serif", serif'  font-size="38.00" fill="#262626">3</text>
<text transform="translate(1030.60 370.80) rotate(-90) scale(0.9300 1)" font-family='"Liberation Serif", serif'  font-size="48.50" fill="#262626">m</text>
<text transform="translate(1006.80 335.60) rotate(-90) scale(1.0500 1)" font-family='"Liberation Serif", serif'  font-size="38.00" fill="#262626">−</text>
<text transform="translate(1006.80 312.28) rotate(-90) scale(0.9000 1)" font-family='"Liberation Serif", serif'  font-size="38.00" fill="#262626">2</text>
<text transform="translate(1030.60 281.70) rotate(-90) scale(0.9300 1)" font-family='"Liberation Serif", serif'  font-size="48.50" fill="#262626">s</text>
<text transform="translate(1006.80 264.00) rotate(-90) scale(1.0500 1)" font-family='"Liberation Serif", serif'  font-size="38.00" fill="#262626">−</text>
<text transform="translate(1006.80 241.56) rotate(-90) scale(0.9000 1)" font-family='"Liberation Serif", serif'  font-size="38.00" fill="#262626">1</text>
<text transform="translate(1032.60 221.91) rotate(-90) scale(0.9000 1)" font-family='"Liberation Serif", serif'  font-size="49.60" fill="#262626">]</text>
</g>
</svg>
</body>
</html>
